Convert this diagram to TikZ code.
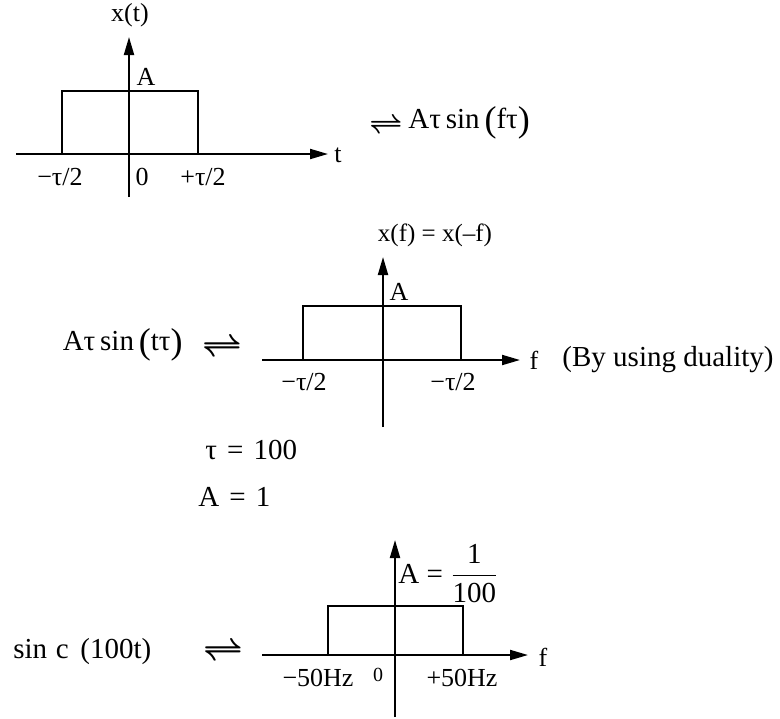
\documentclass[tikz,border=0pt]{standalone}
\usepackage{amsmath}
\usepackage{fontspec}
\setmainfont{Liberation Serif}
\usetikzlibrary{arrows.meta}

\newcommand{\biglp}{\raisebox{-0.12em}{\fontsize{18}{18}\selectfont(}}
\newcommand{\bigrp}{\raisebox{-0.12em}{\fontsize{18}{18}\selectfont)}}

\tikzset{
  axis/.style={line width=1pt,-{Triangle[length=9pt,width=5pt]}},
  pulse/.style={line width=1pt},
  lbl/.style={inner sep=0pt,font=\fontsize{13}{15}\selectfont},
  txt/.style={inner sep=0pt,font=\fontsize{14.5}{17}\selectfont},
  harp/.style={inner sep=0pt,font=\fontsize{17}{20}\selectfont\boldmath},
}

\begin{document}
\begin{tikzpicture}[x=0.5pt,y=-0.5pt]
  \useasboundingbox (0,0) rectangle (780,718);
  % rectangular pulse in time
  \draw[axis] (16,154) -- (328,154);
  \draw[axis] (129,197) -- (129,37);
  \draw[pulse] (62,154) |- (198,91) -- (198,154);
  \node[lbl] (xt) at (130,15) {x(t)};
  \node[lbl] (amp1) at (146,77) {A};
  \node[lbl] (tlab) at (338,155) {t};
  \node[lbl] (neg1) at (60,177) {−τ/2};
  \node[lbl] (zero1) at (142,177) {0};
  \node[lbl] (pos1) at (203,177) {+τ/2};
  \node[harp,font=\fontsize{15}{18}\selectfont\boldmath] (eq1) at (386,126) {$\rightleftharpoons$};
  \node[txt,anchor=west] (ft1) at (408,123) {Aτ\,sin\,\biglp fτ\bigrp};

  % dual pair
  \draw[axis] (262,360) -- (520,360);
  \draw[axis] (383,427) -- (383,257);
  \draw[pulse] (303,360) |- (461,306) -- (461,360);
  \node[inner sep=0pt,font=\fontsize{12.5}{15}\selectfont] (xf) at (435,235) {x(f) = x(–f)};
  \node[lbl] (amp2) at (399,292) {A};
  \node[lbl] (flab2) at (534,360) {f};
  \node[txt] (dual) at (668,360) {(By using duality)};
  \node[lbl] (neg2) at (304,382) {−τ/2};
  \node[lbl] (neg3) at (453,382) {−τ/2};
  \node[txt,anchor=east] (ft2) at (183,345) {Aτ\,sin\,\biglp tτ\bigrp};
  \node[harp] (eq2) at (222,348) {$\rightleftharpoons$};

  % values
  \node[txt,anchor=west] (tauval) at (205,450) {τ\hspace{0.35em}=\hspace{0.35em}100};
  \node[txt,anchor=west] (ampval) at (198,497) {A\hspace{0.35em}=\hspace{0.35em}1};

  % sinc pair
  \draw[axis] (262,655) -- (528,655);
  \draw[axis] (395,717) -- (395,540);
  \draw[pulse] (328,655) |- (463,606) -- (463,655);
  \node[txt,anchor=base west] (amp3) at (398,583) {A = $\dfrac{\text{1}}{\text{100}}$};
  \node[lbl] (flab3) at (543,657) {f};
  \node[lbl] (neg4) at (318,678) {−50Hz};
  \node[inner sep=0pt,font=\fontsize{10}{12}\selectfont] (zero3) at (378,675) {0};
  \node[lbl] (pos4) at (462,678) {+50Hz};
  \node[txt,anchor=west] (sinc) at (13,652) {sin\hspace{0.3em}c\hspace{0.4em}(100t)};
  \node[harp] (eq3) at (223,652) {$\rightleftharpoons$};
\end{tikzpicture}
\end{document}
